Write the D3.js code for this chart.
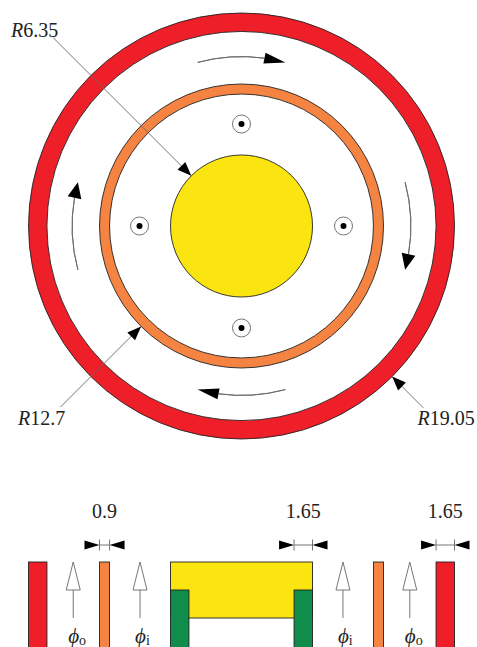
<!DOCTYPE html>
<html>
<head>
<meta charset="utf-8">
<style>
body { margin: 0; background: #fff; }
svg { display: block; }
text { font-family: "Liberation Serif", serif; font-size: 20px; fill: #222; }
.thin { fill: none; stroke: #666; stroke-width: 0.9px; }
.edge { stroke: #222; stroke-width: 0.9px; }
</style>
</head>
<body>
<div id="my_dataviz"></div>
<script src="https://d3js.org/d3.v7.min.js"></script>
<script>
// all lengths in mm, angles in degrees clockwise from the top
var ringNames = ["outer", "inner"];
var ringOuter = [19.05, 12.7];
var ringThickness = [1.65, 0.9];
var ringColors = ["#ee1f29", "#f58342"];
var coreRadius = 6.35;
var coilRadius = 9.12;
var coilAngles = [0, 90, 180, 270];
var flowRadius = 15.15;
var flowStart = [-15, 75, 165, 255];
var flowSpan = 30;
var leaderLabels = ["R6.35", "R12.7", "R19.05"];
var leaderRadius = [6.35, 12.7, 19.05];
var leaderAngle = [315, 225, 135];
var leaderEnd = [23.85, 22.9, 23];
var inletLabels = ["o", "i", "i", "o"];
var inletPos = [-15.05, -9.075, 9.075, 15.05];
var dimLabels = ["0.9", "1.65", "1.65"];
var dimFrom = [-12.7, 4.7, 17.4];
var dimTo = [-11.8, 6.35, 19.05];

var width = 477, height = 647;
var cx = 241.5, cy = 226;

var x = d3.scaleLinear().domain([-19.05, 19.05]).range([28.5, 454.5]);
var r = d3.scaleLinear().domain([0, 19.05]).range([0, 213]);
// section view: depth below the top face
var depth = d3.scaleLinear().domain([0, 5]).range([562, 618]);

var svg = d3.select("#my_dataviz").append("svg")
    .attr("width", width)
    .attr("height", height);

function polar(radius, deg) {
  var a = deg * Math.PI / 180;
  return [cx + r(radius) * Math.sin(a), cy - r(radius) * Math.cos(a)];
}

function triangle(tip, base, halfW) {
  var dx = tip[0] - base[0], dy = tip[1] - base[1];
  var len = Math.sqrt(dx * dx + dy * dy);
  var nx = -dy / len * halfW, ny = dx / len * halfW;
  return [tip, [base[0] + nx, base[1] + ny], [base[0] - nx, base[1] - ny]];
}

var poly = d3.line();

// Rings
var arc = d3.arc().startAngle(0).endAngle(2 * Math.PI);
var plan = svg.append("g").attr("transform", "translate(" + cx + "," + cy + ")");
plan.selectAll("path.ring")
  .data(ringNames)
  .enter().append("path")
    .attr("class", "ring edge")
    .attr("fill", function(d, i) { return ringColors[i]; })
    .attr("d", function(d, i) {
      return arc({ innerRadius: r(ringOuter[i] - ringThickness[i]), outerRadius: r(ringOuter[i]) });
    });

plan.append("circle")
    .attr("class", "edge")
    .attr("r", r(coreRadius))
    .attr("fill", "#fae511");

// Coils, out of the page
coilAngles.forEach(function(a) {
  var p = polar(coilRadius, a);
  svg.append("circle").attr("cx", p[0]).attr("cy", p[1]).attr("r", 9)
      .attr("fill", "none").attr("stroke", "#666").attr("stroke-width", 0.9);
  svg.append("circle").attr("cx", p[0]).attr("cy", p[1]).attr("r", 3).attr("fill", "#000");
});

// Flow direction arcs, heads on the sides are shorter and fatter than top and bottom
var flowArc = d3.arc();
flowStart.forEach(function(a, i) {
  var end = a + flowSpan;
  var side = i % 2 == 1;
  var back = side ? 5.4 : 7.2;
  plan.append("path")
      .attr("class", "thin")
      .attr("d", flowArc({
        innerRadius: r(flowRadius), outerRadius: r(flowRadius),
        startAngle: a * Math.PI / 180, endAngle: (end - back) * Math.PI / 180
      }));
  svg.append("path")
      .attr("fill", "#000")
      .attr("d", poly(triangle(polar(flowRadius, end), polar(flowRadius, end - back), side ? 7 : 5.5)) + "Z");
});

// Radius leaders
leaderLabels.forEach(function(d, i) {
  var tip = polar(leaderRadius[i], leaderAngle[i]);
  var start = polar(leaderEnd[i], leaderAngle[i]);
  svg.append("line").attr("class", "thin")
      .attr("x1", start[0]).attr("y1", start[1])
      .attr("x2", tip[0]).attr("y2", tip[1]);
  svg.append("path")
      .attr("fill", "#000")
      .attr("d", poly(triangle(tip, polar(leaderRadius[i] + 1.25, leaderAngle[i]), 5.5)) + "Z");
});

var labelAt = [[11, 37], [18, 425], [417.5, 425]];
leaderLabels.forEach(function(d, i) {
  var t = svg.append("text").attr("x", labelAt[i][0]).attr("y", labelAt[i][1]);
  t.append("tspan").attr("font-style", "italic").text(d.slice(0, 1));
  t.append("tspan").text(d.slice(1));
});

// Section view
var below = 8; // runs past the page edge
ringOuter.concat(ringOuter).forEach(function(rad, i) {
  var k = i % 2;
  var left = i < 2;
  var a = left ? -rad : rad - ringThickness[k];
  svg.append("rect")
      .attr("class", "edge")
      .attr("x", x(a))
      .attr("y", depth(0))
      .attr("width", x(a + ringThickness[k]) - x(a))
      .attr("height", depth(below) - depth(0))
      .attr("fill", ringColors[k]);
});

svg.append("rect")
    .attr("class", "edge")
    .attr("x", x(-coreRadius))
    .attr("y", depth(0))
    .attr("width", x(coreRadius) - x(-coreRadius))
    .attr("height", depth(5) - depth(0))
    .attr("fill", "#fae511");

[-coreRadius, coreRadius - 1.65].forEach(function(a) {
  svg.append("rect")
      .attr("class", "edge")
      .attr("x", x(a))
      .attr("y", depth(2.5))
      .attr("width", x(a + 1.65) - x(a))
      .attr("height", depth(below) - depth(2.5))
      .attr("fill", "#108d4a");
});

// Inlet arrows
inletPos.forEach(function(p, i) {
  var px = x(p);
  svg.append("line").attr("class", "thin")
      .attr("x1", px).attr("x2", px)
      .attr("y1", depth(5)).attr("y2", depth(2.5));
  svg.append("path")
      .attr("fill", "#fff").attr("stroke", "#666").attr("stroke-width", 0.9)
      .attr("d", poly(triangle([px, depth(0)], [px, depth(2.5)], 7)) + "Z");
  var t = svg.append("text").attr("x", px - 5).attr("y", 643);
  t.append("tspan").attr("font-style", "italic").attr("font-size", 21).text("\u03D5");
  t.append("tspan").attr("font-size", 14).attr("dy", 2).text(inletLabels[i]);
});

// Thickness dimensions
var dimY = 545;
dimLabels.forEach(function(d, i) {
  var a = x(dimFrom[i]), b = x(dimTo[i]);
  svg.append("line").attr("class", "thin")
      .attr("x1", a).attr("x2", b).attr("y1", dimY).attr("y2", dimY);
  [a, b].forEach(function(px) {
    svg.append("line").attr("class", "thin")
        .attr("x1", px).attr("x2", px).attr("y1", dimY - 5.5).attr("y2", dimY + 5.5);
  });
  svg.append("path").attr("fill", "#000")
      .attr("d", poly(triangle([a, dimY], [a - 15, dimY], 4.5)) + "Z");
  svg.append("path").attr("fill", "#000")
      .attr("d", poly(triangle([b, dimY], [b + 15, dimY], 4.5)) + "Z");
  svg.append("text")
      .attr("x", (a + b) / 2)
      .attr("y", 518)
      .attr("text-anchor", "middle")
      .text(d);
});
</script>
</body>
</html>
